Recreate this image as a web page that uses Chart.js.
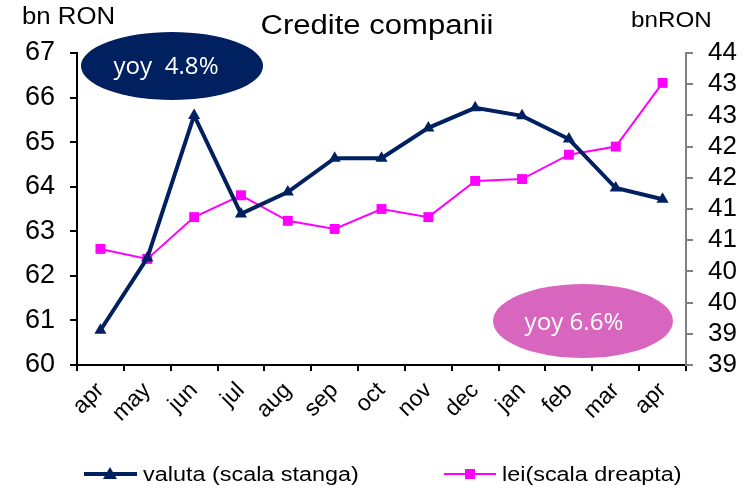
<!DOCTYPE html>
<html>
<head>
<meta charset="utf-8">
<script src="https://cdn.jsdelivr.net/npm/chart.js@4"></script>
<style>
  html, body { margin: 0; padding: 0; background: #fff; }
  #wrap { width: 752px; height: 489px; }
</style>
</head>
<body>
<div id="wrap"><canvas id="chart" width="752" height="489"></canvas></div>
<script>
// ===== date =====
const months = ['apr', 'may', 'jun', 'jul', 'aug', 'sep', 'oct', 'nov', 'dec', 'jan', 'feb', 'mar', 'apr'];
const valuta = [60.78, 62.4, 65.6, 63.39, 63.88, 64.64, 64.64, 65.32, 65.77, 65.59, 65.07, 63.97, 63.72];
const lei = [40.36, 40.2, 40.87, 41.22, 40.81, 40.68, 41.0, 40.87, 41.45, 41.48, 41.87, 42.0, 43.02];
const leftMin = 60, leftMax = 67, leftStep = 1;
const rightMin = 38.5, rightMax = 43.5, rightStep = 0.5;

const NAVY = '#002060';
const MAGENTA = '#FF00FF';
const PINK = '#D966BE';
const FONT = "Arial, 'Liberation Sans', sans-serif";

// texte, elipse, legenda
const extras = {
    id: 'extras',
    afterDraw(chart) {
        const c = chart.ctx;
        c.save();

        function txt(s, x, y, size, color, align, sx, family) {
            c.save();
            c.translate(x, y);
            c.scale(sx || 1, 1);
            c.font = size + 'px ' + (family || FONT);
            c.fillStyle = color;
            c.textAlign = align;
            c.textBaseline = 'middle';
            c.fillText(s, 0, 0);
            c.restore();
        }

        txt('Credite companii', 377, 27, 27, '#000', 'center', 1.15);
        txt('bn RON', 22, 18, 23, '#000', 'left', 1.12);
        txt('bnRON', 631, 21, 22, '#000', 'left', 1.1);

        // elipse yoy
        c.fillStyle = NAVY;
        c.beginPath();
        c.ellipse(172, 66, 91, 34, 0, 0, Math.PI * 2);
        c.fill();
        txt('yoy  4.8%', 166, 67, 23, '#fff', 'center', 1.05, "'Open Sans', 'Noto Sans', sans-serif");

        c.fillStyle = PINK;
        c.beginPath();
        c.ellipse(583, 321, 90, 37, 0, 0, Math.PI * 2);
        c.fill();
        txt('yoy 6.6%', 574, 323, 23, '#fff', 'center', 1.05, "'Open Sans', 'Noto Sans', sans-serif");

        // legenda
        const ly = 474;
        c.strokeStyle = NAVY;
        c.lineWidth = 4;
        c.beginPath(); c.moveTo(84, ly); c.lineTo(137, ly); c.stroke();
        c.fillStyle = NAVY;
        c.beginPath();
        c.moveTo(110, ly - 7); c.lineTo(117, ly + 5); c.lineTo(103, ly + 5); c.closePath();
        c.fill();
        txt('valuta (scala stanga)', 143, ly + 1, 20, '#000', 'left', 1.17);

        c.strokeStyle = MAGENTA;
        c.lineWidth = 2;
        c.beginPath(); c.moveTo(444, ly); c.lineTo(496, ly); c.stroke();
        c.fillStyle = MAGENTA;
        c.fillRect(465, ly - 5, 10, 10);
        txt('lei(scala dreapta)', 502, ly + 1, 20, '#000', 'left', 1.17);

        c.restore();
    }
};

const ctx = document.getElementById('chart');

new Chart(ctx, {
    type: 'line',
    data: {
        labels: months,
        datasets: [{
            label: 'valuta (scala stanga)',
            data: valuta,
            yAxisID: 'y',
            borderColor: NAVY,
            backgroundColor: NAVY,
            borderWidth: 4,
            pointStyle: 'triangle',
            pointRadius: 7,
            pointBorderWidth: 0,
            tension: 0
        },
        {
            label: 'lei(scala dreapta)',
            data: lei,
            yAxisID: 'y1',
            borderColor: MAGENTA,
            backgroundColor: MAGENTA,
            borderWidth: 2,
            pointStyle: 'rect',
            pointRadius: 7,
            pointBorderWidth: 0,
            tension: 0
        }]
    },
    options: {
        responsive: false,
        animation: false,
        layout: {
            padding: { top: 53, left: 0, right: 0, bottom: 0 }
        },
        scales: {
            x: {
                offset: true,
                afterFit: s => { s.height = 124; },
                border: { display: true, color: '#000', width: 2 },
                grid: {
                    offset: true,
                    drawOnChartArea: false,
                    drawTicks: true,
                    tickLength: 6,
                    color: '#000',
                    lineWidth: 2
                },
                ticks: {
                    autoSkip: false,
                    minRotation: 45,
                    maxRotation: 45,
                    padding: 6,
                    color: '#000',
                    font: { family: FONT, size: 23 }
                }
            },
            y: {
                position: 'left',
                min: leftMin,
                max: leftMax,
                afterFit: s => { s.width = 77; },
                border: { display: true, color: '#000', width: 2 },
                grid: {
                    drawOnChartArea: false,
                    tickLength: 7,
                    color: '#000',
                    lineWidth: 2
                },
                ticks: {
                    autoSkip: false,
                    stepSize: leftStep,
                    padding: 15,
                    color: '#000',
                    font: { family: FONT, size: 27 }
                }
            },
            y1: {
                position: 'right',
                min: rightMin,
                max: rightMax,
                afterFit: s => { s.width = 66; },
                border: { display: true, color: '#808080', width: 2 },
                grid: {
                    drawOnChartArea: false,
                    tickLength: 7,
                    color: '#808080',
                    lineWidth: 2
                },
                ticks: {
                    autoSkip: false,
                    stepSize: rightStep,
                    padding: 15,
                    color: '#000',
                    font: { family: FONT, size: 26 },
                    callback: v => Math.round(v)
                }
            }
        },
        plugins: {
            legend: { display: false },
            title: { display: false },
            tooltip: { enabled: false }
        }
    },
    plugins: [extras]
});
</script>
</body>
</html>
